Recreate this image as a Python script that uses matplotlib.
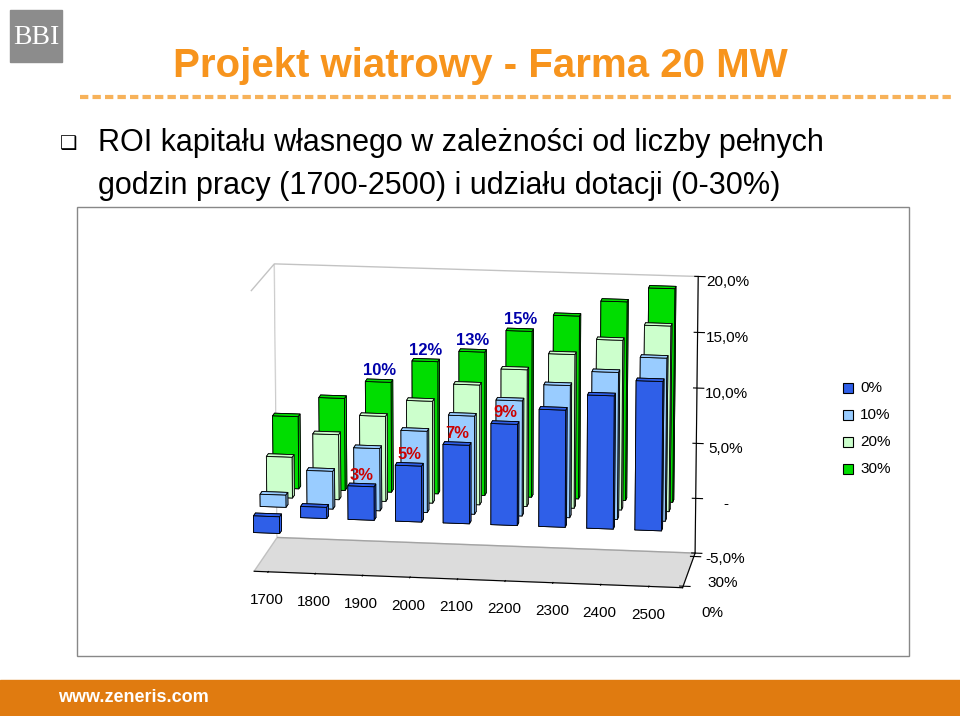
import numpy as np
import matplotlib
matplotlib.use("Agg")
import matplotlib.pyplot as plt
from matplotlib.patches import Rectangle

plt.rcParams["font.family"] = "Liberation Sans"

hours = ["1700", "1800", "1900", "2000", "2100", "2200", "2300", "2400", "2500"]
series = ["0%", "10%", "20%", "30%"]
roi_0 = [-1.5, 1.0, 3.0, 5.0, 7.0, 9.0, 10.4, 11.8, 13.2]
roi_10 = [1.1, 3.4, 5.6, 7.3, 8.8, 10.3, 11.8, 13.1, 14.5]
roi_20 = [3.7, 5.9, 7.7, 9.2, 10.8, 12.3, 13.8, 15.2, 16.6]
roi_30 = [6.6, 8.4, 10.0, 12.0, 13.0, 15.0, 16.5, 17.9, 19.2]
labels_0 = {2: "3%", 3: "5%", 4: "7%", 5: "9%"}
labels_30 = {2: "10%", 3: "12%", 4: "13%", 5: "15%"}
z_ticks = [-5, 0, 5, 10, 15, 20]
z_labels = ["-5,0%", "-", "5,0%", "10,0%", "15,0%", "20,0%"]
colors = ["#2f5fe8", "#99ccff", "#ccffcc", "#00dd00"]

fig = plt.figure(figsize=(9.6, 7.16), dpi=100)
W, H = 960, 716

def fx(x): return x / W
def fy(y): return 1 - y / H

# logo
fig.patches.append(Rectangle((fx(10), fy(62)), 52 / W, 52 / H, transform=fig.transFigure,
                             color="#8c8c8c", zorder=0))
fig.text(fx(36), fy(38), "BBI", color="white", fontsize=20, family="Liberation Serif",
         ha="center", va="center")

fig.text(fx(480), fy(66), "Projekt wiatrowy - Farma 20 MW", color="#f7941d", fontsize=29,
         fontweight="bold", ha="center", va="center")
fig.add_artist(plt.Line2D([fx(80), fx(955)], [fy(97), fy(97)], transform=fig.transFigure,
                          color="#f7b25a", lw=3, ls=(0, (2, 1))))
fig.text(fx(60), fy(143), "\u2751", fontsize=14, ha="left", va="center", family="DejaVu Sans")
fig.text(fx(98), fy(143), "ROI kapitału własnego w zależności od liczby pełnych",
         fontsize=22, ha="left", va="center")
fig.text(fx(98), fy(186), "godzin pracy (1700-2500) i udziału dotacji (0-30%)",
         fontsize=22, ha="left", va="center")

# chart frame
fig.patches.append(Rectangle((fx(77), fy(656)), 832 / W, 449 / H, transform=fig.transFigure,
                             fill=False, ec="#888888", lw=1))

ax = fig.add_axes([fx(90), fy(655), 760 / W, 450 / H], projection="3d")
ax.computed_zorder = False
ax.set_proj_type("persp", focal_length=2)
data = [roi_0, roi_10, roi_20, roi_30]
for j in reversed(range(4)):
    for i in range(9):
        v = data[j][i]
        ax.bar3d(i, j * 1.0, min(0, v), 0.55, 0.3, abs(v), color=colors[j],
                 edgecolor="black", linewidth=0.6, shade=False, zorder=2)
for i, t in labels_0.items():
    ax.text(i + 0.3, 0, roi_0[i] + 0.6, t, color="#cc0000", fontsize=12, fontweight="bold",
            ha="center", zorder=10)
for i, t in labels_30.items():
    ax.text(i + 0.3, 3, roi_30[i] + 0.6, t, color="#0000aa", fontsize=12, fontweight="bold",
            ha="center", zorder=10)
ax.set_xlim(0, 9)
ax.set_ylim(0, 3.5)
ax.set_zlim(-5, 20)
ax.set_xticks(np.arange(9) + 0.3)
ax.set_xticklabels(hours, fontsize=11)
ax.set_yticks([0.15, 3.15])
ax.set_yticklabels(["0%", "30%"], fontsize=11)
ax.set_zticks(z_ticks)
ax.set_zticklabels(z_labels, fontsize=11)
ax.view_init(elev=14, azim=-82)
ax.set_box_aspect((3, 0.9, 2.0), zoom=1.15)
for a in (ax.xaxis, ax.yaxis, ax.zaxis):
    a.pane.set_facecolor("white")
    a.pane.set_edgecolor("#888888")
    a._axinfo["grid"]["linewidth"] = 0
ax.zaxis.pane.set_facecolor("#bbbbbb")
ax.grid(False)

# legend
for k, s in enumerate(series):
    y = 388 + k * 27
    fig.patches.append(Rectangle((fx(843), fy(y + 5)), 10 / W, 10 / H, transform=fig.transFigure,
                                 facecolor=colors[k], edgecolor="black", lw=0.8))
    fig.text(fx(860), fy(y), s, fontsize=11, va="center")

# bottom banner
fig.patches.append(Rectangle((0, 0), 1, 36 / H, transform=fig.transFigure, color="#e07b10"))
fig.text(fx(58), fy(697), "www.zeneris.com", color="white", fontsize=13, fontweight="bold", va="center")

fig.savefig("out.png", dpi=100)
